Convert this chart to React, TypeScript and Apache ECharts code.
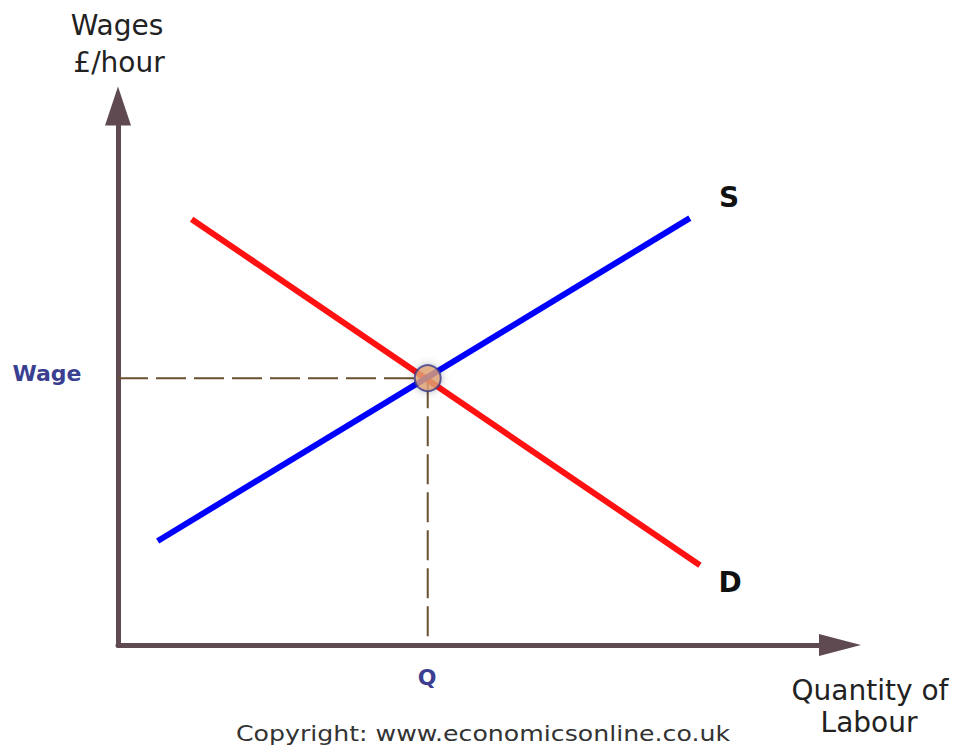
import React, { useEffect, useRef } from "react";
import * as echarts from "echarts";

// Data (in chart units: x 0-100 quantity, y 0-100 wage)
const supplyLine: [number, number][] = [
  [5.5, 19.3],
  [79.2, 79.2],
];
const demandLine: [number, number][] = [
  [10.2, 79.0],
  [80.6, 14.8],
];
const equilibriumQ = 42.9;
const equilibriumWage = 49.5;
const seriesNames = ["S", "D"];
const axisTitles = { y: ["Wages", "£/hour"], x: ["Quantity of", "Labour"] };
const tickLabels = { wage: "Wage", q: "Q" };
const copyright = "Copyright: www.economicsonline.co.uk";

export default function App() {
  const ref = useRef<HTMLDivElement>(null);
  useEffect(() => {
    document.body.style.margin = "0";
    if (!ref.current) return;
    const chart = echarts.init(ref.current, undefined, { renderer: "svg" });
    const axisColor = "#5f4a52";
    const dashColor = "#6b5030";
    const font = "DejaVu Sans";
    const text = (
      x: number,
      y: number,
      t: string,
      f: string,
      fill: string,
      scaleX = 1
    ) => ({
      type: "text",
      x,
      y,
      scaleX,
      style: { text: t, font: f, fill, align: "center", verticalAlign: "middle" },
    });
    chart.setOption({
      animation: false,
      backgroundColor: "#ffffff",
      grid: { left: 118, right: 115, top: 106, bottom: 101 },
      xAxis: {
        type: "value",
        min: 0,
        max: 100,
        splitLine: { show: false },
        axisTick: { show: false },
        axisLabel: { show: false },
        axisLine: {
          show: true,
          onZero: false,
          symbol: ["none", "triangle"],
          symbolSize: [22, 42],
          lineStyle: { color: axisColor, width: 5 },
        },
      },
      yAxis: {
        type: "value",
        min: 0,
        max: 100,
        splitLine: { show: false },
        axisTick: { show: false },
        axisLabel: { show: false },
        axisLine: {
          show: true,
          onZero: false,
          symbol: ["none", "triangle"],
          symbolSize: [26, 39],
          lineStyle: { color: axisColor, width: 5 },
        },
      },
      series: [
        {
          type: "line",
          data: [
            [0, equilibriumWage],
            [equilibriumQ, equilibriumWage],
          ],
          symbol: "none",
          lineStyle: { color: dashColor, width: 2, type: [30, 8] },
          z: 1,
        },
        {
          type: "line",
          data: [
            [equilibriumQ, equilibriumWage],
            [equilibriumQ, 0],
          ],
          symbol: "none",
          lineStyle: { color: dashColor, width: 2, type: [30, 8] },
          z: 1,
        },
        {
          name: seriesNames[1],
          type: "line",
          data: demandLine,
          symbol: "none",
          lineStyle: { color: "#ff1111", width: 6 },
          z: 2,
        },
        {
          name: seriesNames[0],
          type: "line",
          data: supplyLine,
          symbol: "none",
          lineStyle: { color: "#0000ff", width: 6 },
          z: 3,
        },
        {
          type: "scatter",
          data: [[equilibriumQ, equilibriumWage]],
          symbol: "circle",
          symbolSize: 26,
          itemStyle: {
            color: "#e2a474",
            borderColor: "#3b3a8a",
            borderWidth: 2,
            shadowBlur: 8,
            shadowColor: "rgba(0,0,0,0.3)",
          },
          z: 4,
        },
      ],
      graphic: [
        text(117, 25, axisTitles.y[0], `28px "${font}"`, "#222"),
        text(119, 62, axisTitles.y[1], `28px "${font}"`, "#222"),
        text(47, 373, tickLabels.wage, `bold 22px "${font}"`, "#3b3f91"),
        text(427, 677, tickLabels.q, `bold 22px "${font}"`, "#3b3f91"),
        text(729, 197, seriesNames[0], `bold 28px "${font}"`, "#111"),
        text(730, 582, seriesNames[1], `bold 28px "${font}"`, "#111"),
        text(870, 690, axisTitles.x[0], `28px "${font}"`, "#222"),
        text(869, 722, axisTitles.x[1], `28px "${font}"`, "#222"),
        text(483, 733, copyright, `21px "${font}"`, "#333", 1.2),
      ],
    });
    return () => chart.dispose();
  }, []);
  return <div ref={ref} style={{ width: 955, height: 746 }} />;
}
